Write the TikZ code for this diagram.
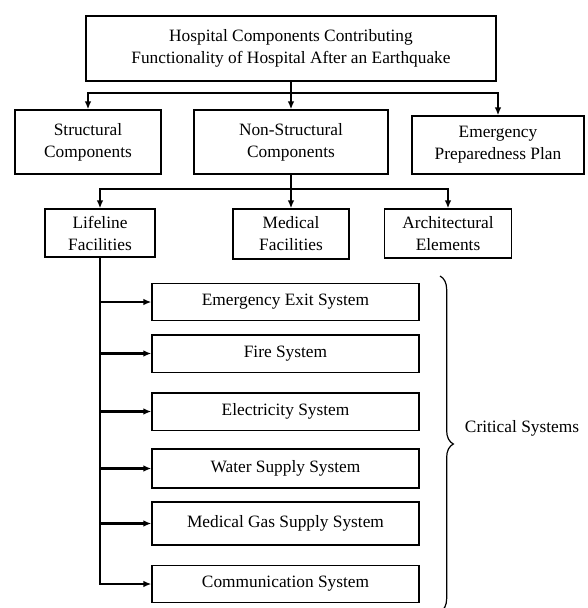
\documentclass[tikz,border=0pt]{standalone}
\usepackage{fontspec}
\setmainfont{Liberation Serif}
\usetikzlibrary{arrows.meta,decorations.pathreplacing}

\begin{document}
\begin{tikzpicture}[x=0.75pt, y=-0.75pt,
	box/.style={shape=rectangle, draw=black, line width=1pt, align=center, inner sep=2pt, font=\fontsize{13}{16.5}\selectfont},
	sysbox/.style={box, minimum width=200.25pt, minimum height=28pt},
	link/.style={line width=1.7pt},
	arr/.style={link, -{Latex[length=6pt,width=5pt]}}]
	\useasboundingbox (0, 0) rectangle (587, 608);

	% levels one and two
	\node[box, minimum width=307.5pt, minimum height=48.75pt] (top) at (291, 48.5) {Hospital Components Contributing\\Functionality of Hospital After an Earthquake};
	\node[box, minimum width=109.5pt, minimum height=48pt] (struct) at (88, 142)     {Structural\\Components};
	\node[box, minimum width=145.5pt, minimum height=48pt] (nonstruct) at (291, 142) {Non-Structural\\Components};
	\node[box, minimum width=129pt, minimum height=43.5pt] (plan) at (498, 145)      {Emergency\\Preparedness Plan};

	\node[box, minimum width=82.5pt, minimum height=36pt] (lifeline) at (100, 233)   {Lifeline\\Facilities};
	\node[box, minimum width=87pt, minimum height=37.5pt] (medfac) at (291, 234)     {Medical\\Facilities};
	\node[box, minimum width=95.25pt, minimum height=36.75pt] (arch) at (448, 233.5) {Architectural\\Elements};

	% critical systems
	\node[sysbox] (exit) at (285.5, 302)                          {Emergency Exit System};
	\node[sysbox] (fire) at (285.5, 353.5)                        {Fire System};
	\node[sysbox] (elec) at (285.5, 411.5)                        {Electricity System};
	\node[sysbox, minimum height=29.25pt] (water) at (285.5, 468.5) {Water Supply System};
	\node[sysbox, minimum height=32.25pt] (gas) at (285.5, 523.5)   {Medical Gas Supply System};
	\node[sysbox] (comm) at (285.5, 584)                          {Communication System};

	\coordinate (j1) at (291, 93);
	\coordinate (j2) at (291, 189);

	\draw[link] (top.south) -- (j1);
	\draw[arr] (j1) -| (struct.north);
	\draw[arr] (j1) -- (nonstruct.north);
	\draw[arr] (j1) -| (plan.north);

	\draw[link] (nonstruct.south) -- (j2);
	\draw[arr] (j2) -| (lifeline.north);
	\draw[arr] (j2) -- (medfac.north);
	\draw[arr] (j2) -| (arch.north);

	\foreach \s in {exit, fire, elec, water, gas, comm}
		\draw[arr] (lifeline.south) |- (\s.west);

	% brace
	\coordinate (braceTop) at (440, 276);
	\coordinate (braceBot) at (440, 612);
	\draw[line width=0.9pt, decorate, decoration={brace, amplitude=10pt}] (braceTop) -- (braceBot);
	\node[font=\fontsize{13}{16.5}\selectfont] (crit) at (522, 428) {Critical Systems};

\end{tikzpicture}
\end{document}
